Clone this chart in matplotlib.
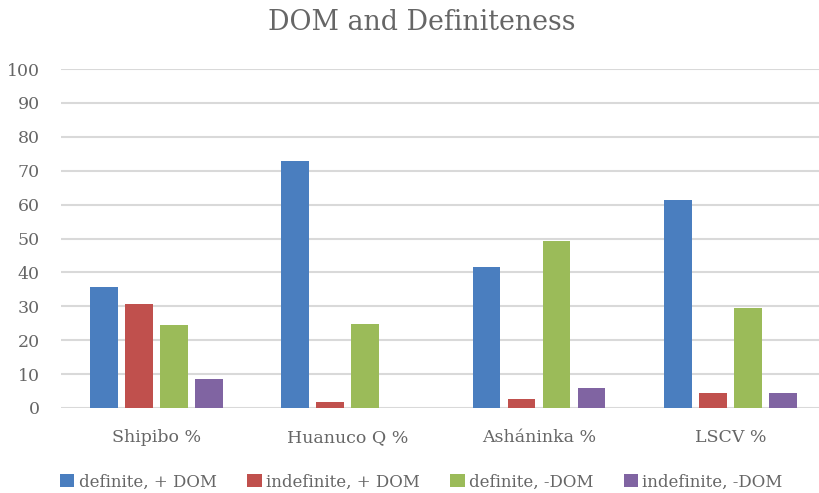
import matplotlib
matplotlib.use("Agg")
import matplotlib.pyplot as plt
import numpy as np

categories = ["Shipibo %", "Huanuco Q %", "Asháninka %", "LSCV %"]
series_names = ["definite, + DOM", "indefinite, + DOM", "definite, -DOM", "indefinite, -DOM"]
def_dom = [35.8, 72.9, 41.6, 61.4]
indef_dom = [30.8, 1.9, 2.7, 4.5]
def_nodom = [24.5, 24.9, 49.3, 29.6]
indef_nodom = [8.6, 0, 6.0, 4.5]
yticks = list(range(0, 101, 10))

colors = ["#4A7EBF", "#C0504D", "#9BBB59", "#8064A2"]
series = [def_dom, indef_dom, def_nodom, indef_nodom]
text_color = "#666666"

plt.rcParams['font.family'] = ['DejaVu Serif']
fig = plt.figure(figsize=(8.2, 4.93), dpi=100)
left_px, right_px = 60.7, 826.0
ax = fig.add_axes([left_px/820, 85/493, (right_px-left_px)/820, 339/493])

x = np.arange(len(categories))
w = 0.146
step = 0.183
for i, (vals, c, n) in enumerate(zip(series, colors, series_names)):
    ax.bar(x + (i - 1.5) * step, vals, width=w, color=c, label=n, zorder=3)

ax.set_xlim(-0.5, 3.5)
ax.set_ylim(0, 100)
ax.set_yticks(yticks)
ax.set_xticks(x)
ax.set_xticklabels(categories)
ax.yaxis.grid(True, color="#D9D9D9", linewidth=1.5, zorder=0)
for s in ax.spines.values():
    s.set_visible(False)
ax.tick_params(axis='both', length=0, colors=text_color, labelsize=12.5)
ax.tick_params(axis='x', pad=15)
ax.tick_params(axis='y', pad=15)

cx = 421.5/820
fig.text(cx, 1 - 22/493, "DOM and Definiteness", ha="center", va="center",
         fontsize=19.3, color=text_color)
fig.legend(loc="center", bbox_to_anchor=(cx, 1 - 482/493), ncol=4, frameon=False,
           fontsize=12, labelcolor=text_color, handlelength=0.85, handleheight=0.8,
           handletextpad=0.25, columnspacing=1.85)

fig.savefig("out.png", dpi=100)
